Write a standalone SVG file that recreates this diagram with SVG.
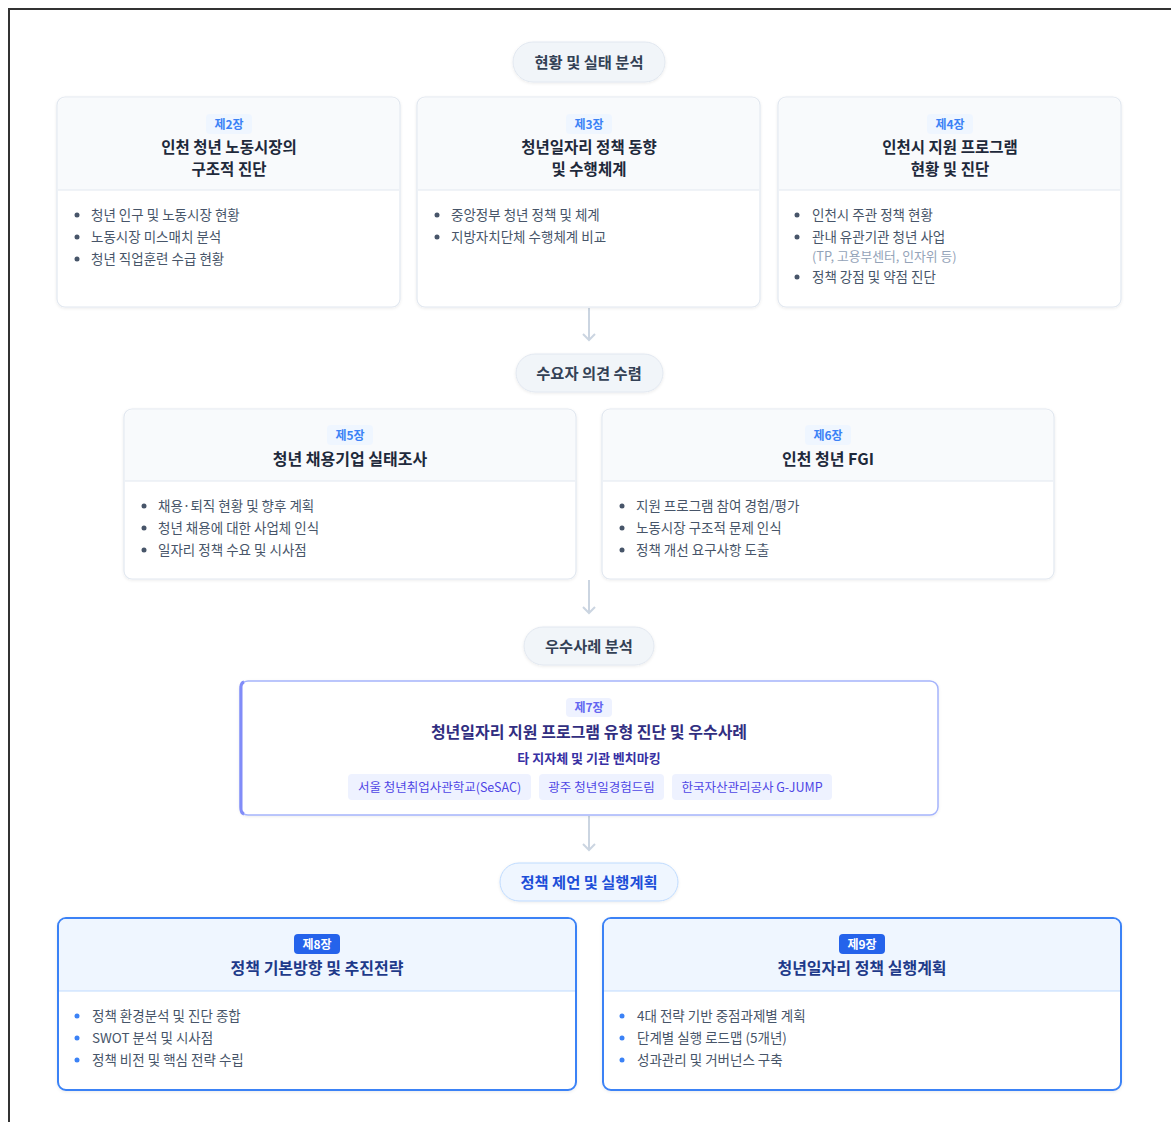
<svg xmlns="http://www.w3.org/2000/svg" width="1171" height="1122" viewBox="0 0 1171 1122">
<defs>
<filter id="sh" x="-5%" y="-5%" width="110%" height="115%">
<feDropShadow dx="0" dy="1" stdDeviation="1.5" flood-color="#0f172a" flood-opacity="0.08"/>
</filter>
</defs>
<style>
text{font-family:"Noto Sans CJK KR","Noto Sans",sans-serif}
.card{fill:#fff;stroke:#e2e8f0;stroke-width:1.2}
.hdr{fill:#f8fafc}
.div{stroke:#e2e8f0;stroke-width:1}
.badge{fill:#eff6ff}
.bt{font-size:12px;font-weight:700;fill:#3b82f6;text-anchor:middle}
.ttl{font-size:16px;font-weight:700;fill:#1e293b;text-anchor:middle}
.ttl2{font-size:15.5px;font-weight:700;fill:#1e293b;text-anchor:middle}
.li{font-size:13.5px;fill:#475569}
.note{font-size:12.8px;fill:#94a3b8}
.dot{fill:#475569}
.pill{fill:#f1f5f9;stroke:#e2e8f0;stroke-width:1}
.pt{font-size:15.3px;font-weight:700;fill:#334155;text-anchor:middle}
.conn{stroke:#cbd5e1;stroke-width:2;fill:none}
.bcard{fill:#fff;stroke:#3b82f6;stroke-width:2}
.bhdr{fill:#eff6ff}
.bdiv{stroke:#bfdbfe;stroke-width:1}
.bbadge{fill:#2563eb}
.bbt{font-size:12px;font-weight:700;fill:#fff;text-anchor:middle}
.bttl{font-size:16px;font-weight:700;fill:#1e3a8a;text-anchor:middle}
.bdot{fill:#3b82f6}
.tag{fill:#eef2ff}
.tt{font-size:12.5px;fill:#4f46e5;text-anchor:middle}
</style>
<rect width="1171" height="1122" fill="#fff"/>
<path d="M9 1122 V9 H1171" fill="none" stroke="#333" stroke-width="2"/>

<g id="connectors">
<line class="conn" x1="589" y1="308" x2="589" y2="340"/>
<path class="conn" d="M583 334 L589 340 L595 334"/>
<line class="conn" x1="589" y1="580" x2="589" y2="613"/>
<path class="conn" d="M583 607 L589 613 L595 607"/>
<line class="conn" x1="589" y1="816" x2="589" y2="850"/>
<path class="conn" d="M583 844 L589 850 L595 844"/>
</g>

<g id="phase1">
<rect class="pill" x="513" y="42" width="152" height="40" rx="20" filter="url(#sh)"/>
<text class="pt" x="589" y="67.5">현황 및 실태 분석</text>
</g>

<g id="ch2">
<rect class="card" x="57" y="97" width="343" height="210" rx="8" filter="url(#sh)"/>
<path class="hdr" d="M58 105 a7 7 0 0 1 7 -7 H392 a7 7 0 0 1 7 7 V190 H58 Z"/>
<line class="div" x1="58" y1="190" x2="399" y2="190"/>
<rect class="badge" x="206" y="114" width="46" height="20" rx="4"/>
<text class="bt" x="229" y="128.5">제2장</text>
<text class="ttl2" x="229" y="152.5">인천 청년 노동시장의</text>
<text class="ttl2" x="229" y="174.5">구조적 진단</text>
<circle class="dot" cx="77" cy="215" r="2.5"/><text class="li" x="91" y="220">청년 인구 및 노동시장 현황</text>
<circle class="dot" cx="77" cy="237" r="2.5"/><text class="li" x="91" y="242">노동시장 미스매치 분석</text>
<circle class="dot" cx="77" cy="259" r="2.5"/><text class="li" x="91" y="264">청년 직업훈련 수급 현황</text>
</g>

<g id="ch3">
<rect class="card" x="417" y="97" width="343" height="210" rx="8" filter="url(#sh)"/>
<path class="hdr" d="M418 105 a7 7 0 0 1 7 -7 H752 a7 7 0 0 1 7 7 V190 H418 Z"/>
<line class="div" x1="418" y1="190" x2="759" y2="190"/>
<rect class="badge" x="566" y="114" width="46" height="20" rx="4"/>
<text class="bt" x="589" y="128.5">제3장</text>
<text class="ttl2" x="589" y="152.5">청년일자리 정책 동향</text>
<text class="ttl2" x="589" y="174.5">및 수행체계</text>
<circle class="dot" cx="437" cy="215" r="2.5"/><text class="li" x="451" y="220">중앙정부 청년 정책 및 체계</text>
<circle class="dot" cx="437" cy="237" r="2.5"/><text class="li" x="451" y="242">지방자치단체 수행체계 비교</text>
</g>

<g id="ch4">
<rect class="card" x="778" y="97" width="343" height="210" rx="8" filter="url(#sh)"/>
<path class="hdr" d="M779 105 a7 7 0 0 1 7 -7 H1113 a7 7 0 0 1 7 7 V190 H779 Z"/>
<line class="div" x1="779" y1="190" x2="1120" y2="190"/>
<rect class="badge" x="927" y="114" width="46" height="20" rx="4"/>
<text class="bt" x="950" y="128.5">제4장</text>
<text class="ttl2" x="950" y="152.5">인천시 지원 프로그램</text>
<text class="ttl2" x="950" y="174.5">현황 및 진단</text>
<circle class="dot" cx="797" cy="215" r="2.5"/><text class="li" x="812" y="220">인천시 주관 정책 현황</text>
<circle class="dot" cx="797" cy="237" r="2.5"/><text class="li" x="812" y="242">관내 유관기관 청년 사업</text>
<text class="note" x="812" y="260.5">(TP, 고용부센터, 인자위 등)</text>
<circle class="dot" cx="797" cy="277" r="2.5"/><text class="li" x="812" y="282">정책 강점 및 약점 진단</text>
</g>

<g id="phase2">
<rect class="pill" x="516" y="354" width="147" height="38" rx="19" filter="url(#sh)"/>
<text class="pt" x="589" y="378.5">수요자 의견 수렴</text>
</g>

<g id="ch5">
<rect class="card" x="124" y="409" width="452" height="170" rx="8" filter="url(#sh)"/>
<path class="hdr" d="M125 417 a7 7 0 0 1 7 -7 H568 a7 7 0 0 1 7 7 V481 H125 Z"/>
<line class="div" x1="125" y1="481" x2="575" y2="481"/>
<rect class="badge" x="327" y="425" width="46" height="20" rx="4"/>
<text class="bt" x="350" y="439.5">제5장</text>
<text class="ttl" x="350" y="464.5">청년 채용기업 실태조사</text>
<circle class="dot" cx="144" cy="506" r="2.5"/><text class="li" x="158" y="511">채용·퇴직 현황 및 향후 계획</text>
<circle class="dot" cx="144" cy="528" r="2.5"/><text class="li" x="158" y="533">청년 채용에 대한 사업체 인식</text>
<circle class="dot" cx="144" cy="550" r="2.5"/><text class="li" x="158" y="555">일자리 정책 수요 및 시사점</text>
</g>

<g id="ch6">
<rect class="card" x="602" y="409" width="452" height="170" rx="8" filter="url(#sh)"/>
<path class="hdr" d="M603 417 a7 7 0 0 1 7 -7 H1046 a7 7 0 0 1 7 7 V481 H603 Z"/>
<line class="div" x1="603" y1="481" x2="1053" y2="481"/>
<rect class="badge" x="805" y="425" width="46" height="20" rx="4"/>
<text class="bt" x="828" y="439.5">제6장</text>
<text class="ttl" x="828" y="464.5">인천 청년 FGI</text>
<circle class="dot" cx="622" cy="506" r="2.5"/><text class="li" x="636" y="511">지원 프로그램 참여 경험/평가</text>
<circle class="dot" cx="622" cy="528" r="2.5"/><text class="li" x="636" y="533">노동시장 구조적 문제 인식</text>
<circle class="dot" cx="622" cy="550" r="2.5"/><text class="li" x="636" y="555">정책 개선 요구사항 도출</text>
</g>

<g id="phase3">
<rect class="pill" x="524" y="627" width="130" height="38" rx="19" filter="url(#sh)"/>
<text class="pt" x="589" y="651.5">우수사례 분석</text>
</g>

<g id="ch7">
<rect x="240" y="681" width="698" height="134" rx="8" fill="#fff" stroke="#a5b4fc" stroke-width="1.5" filter="url(#sh)"/>
<path d="M244 682 a4 5 0 0 0 -3 5 V809 a4 5 0 0 0 3 5" fill="none" stroke="#818cf8" stroke-width="3"/>
<rect x="566" y="698" width="46" height="19" rx="4" fill="#eef2ff"/>
<text x="589" y="712" font-size="12" font-weight="700" fill="#6366f1" text-anchor="middle">제7장</text>
<text x="589" y="737.5" font-size="16" font-weight="700" fill="#312e81" text-anchor="middle">청년일자리 지원 프로그램 유형 진단 및 우수사례</text>
<text x="589" y="762.5" font-size="13" font-weight="700" fill="#3730a3" text-anchor="middle">타 지자체 및 기관 벤치마킹</text>
<rect class="tag" x="348" y="774" width="183" height="26" rx="4"/>
<text class="tt" x="439.5" y="791.5">서울 청년취업사관학교(SeSAC)</text>
<rect class="tag" x="539" y="774" width="125" height="26" rx="4"/>
<text class="tt" x="601.5" y="791.5">광주 청년일경험드림</text>
<rect class="tag" x="672" y="774" width="160" height="26" rx="4"/>
<text class="tt" x="752" y="791.5">한국자산관리공사 G-JUMP</text>
</g>

<g id="phase4">
<rect x="500" y="863" width="178" height="38" rx="19" fill="#eff6ff" stroke="#bfdbfe" stroke-width="1" filter="url(#sh)"/>
<text x="589" y="887.5" font-size="15.3" font-weight="700" fill="#1d4ed8" text-anchor="middle">정책 제언 및 실행계획</text>
</g>

<g id="ch8">
<rect class="bcard" x="58" y="918" width="518" height="172" rx="8" filter="url(#sh)"/>
<path class="bhdr" d="M59 926 a7 7 0 0 1 7 -7 H568 a7 7 0 0 1 7 7 V991 H59 Z"/>
<line class="bdiv" x1="59" y1="991" x2="575" y2="991"/>
<rect class="bbadge" x="294" y="934" width="46" height="20" rx="4"/>
<text class="bbt" x="317" y="948.5">제8장</text>
<text class="bttl" x="317" y="973.5">정책 기본방향 및 추진전략</text>
<circle class="bdot" cx="77" cy="1016" r="2.5"/><text class="li" x="92" y="1021">정책 환경분석 및 진단 종합</text>
<circle class="bdot" cx="77" cy="1038" r="2.5"/><text class="li" x="92" y="1043">SWOT 분석 및 시사점</text>
<circle class="bdot" cx="77" cy="1060" r="2.5"/><text class="li" x="92" y="1065">정책 비전 및 핵심 전략 수립</text>
</g>

<g id="ch9">
<rect class="bcard" x="603" y="918" width="518" height="172" rx="8" filter="url(#sh)"/>
<path class="bhdr" d="M604 926 a7 7 0 0 1 7 -7 H1113 a7 7 0 0 1 7 7 V991 H604 Z"/>
<line class="bdiv" x1="604" y1="991" x2="1120" y2="991"/>
<rect class="bbadge" x="839" y="934" width="46" height="20" rx="4"/>
<text class="bbt" x="862" y="948.5">제9장</text>
<text class="bttl" x="862" y="973.5">청년일자리 정책 실행계획</text>
<circle class="bdot" cx="622" cy="1016" r="2.5"/><text class="li" x="637" y="1021">4대 전략 기반 중점과제별 계획</text>
<circle class="bdot" cx="622" cy="1038" r="2.5"/><text class="li" x="637" y="1043">단계별 실행 로드맵 (5개년)</text>
<circle class="bdot" cx="622" cy="1060" r="2.5"/><text class="li" x="637" y="1065">성과관리 및 거버넌스 구축</text>
</g>
</svg>
